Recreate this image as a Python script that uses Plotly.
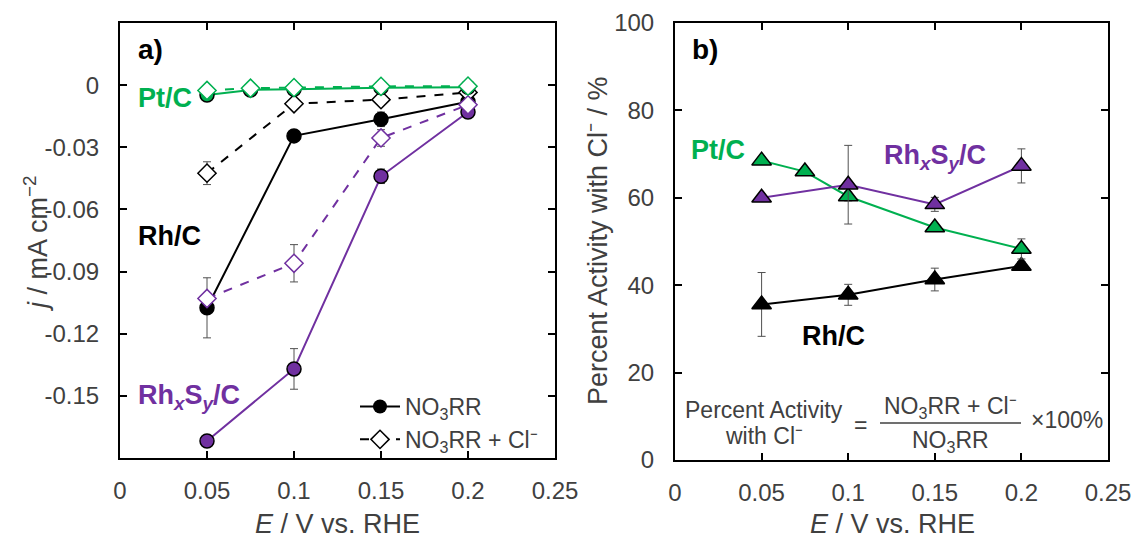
import plotly.graph_objects as go

# ---- data -------------------------------------------------------------
E = [0.05, 0.1, 0.15, 0.2]
E_pt = [0.05, 0.075, 0.1, 0.15, 0.2]

# panel a: current density / mA cm^-2
pt_no3 = [-0.0048, -0.0023, -0.0020, -0.0012, -0.0010]
pt_no3_err = [0.0005, 0.0005, 0.0005, 0.0005, 0.0005]
pt_cl = [-0.0026, -0.0015, -0.0012, -0.0006, -0.0005]
pt_cl_err = [0.0005, 0.0005, 0.0005, 0.0005, 0.0005]

rh_no3 = [-0.1075, -0.0245, -0.0165, -0.0080]
rh_no3_err = [0.0145, 0.0010, 0.0035, 0.0010]
rh_cl = [-0.0425, -0.0090, -0.0070, -0.0035]
rh_cl_err = [0.0055, 0.0010, 0.0010, 0.0005]

rhs_no3 = [-0.1718, -0.1370, -0.0440, -0.0130]
rhs_no3_err = [0.0015, 0.0098, 0.0035, 0.0010]
rhs_cl = [-0.1030, -0.0860, -0.0255, -0.0095]
rhs_cl_err = [0.0020, 0.0090, 0.0040, 0.0010]

# panel b: percent activity retained with chloride
pt_pct = [68.5, 66.0, 60.3, 53.2, 48.3]
pt_pct_err = [0.8, 0.8, 1.0, 0.8, 2.3]
rh_pct = [35.6, 37.8, 41.3, 44.4]
rh_pct_err = [7.3, 2.4, 2.6, 1.0]
rhs_pct = [60.0, 63.0, 58.5, 67.3]
rhs_pct_err = [0.8, 9.0, 1.6, 3.9]

x_ticks = [0, 0.05, 0.1, 0.15, 0.2, 0.25]
x_ticktext = ["0", "0.05", "0.1", "0.15", "0.2", "0.25"]
ya_ticks = [-0.15, -0.12, -0.09, -0.06, -0.03, 0]
ya_ticktext = ["-0.15", "-0.12", "-0.09", "-0.06", "-0.03", "0"]
yb_ticks = [0, 20, 40, 60, 80, 100]

# ---- style ------------------------------------------------------------
W, H = 1135, 538
GREEN = "#00B050"
PURPLE = "#7030A0"
BLACK = "#000000"
GREY = "#404040"
ERR = "#505050"
FONT = "Liberation Sans, Arial, sans-serif"


def px(x):
    return x / W


def py(y):
    return 1 - y / H


def err(vals):
    return dict(type="data", array=vals, color=ERR, thickness=1, width=4)


fig = go.Figure()


def add_a(x, y, e, color, fill, symbol, dash, outline=BLACK):
    fig.add_trace(go.Scatter(
        x=x, y=y, error_y=err(e), mode="lines+markers",
        line=dict(color=color, width=2, dash=dash),
        marker=dict(symbol=symbol, size=14, color=fill,
                    line=dict(color=outline, width=1.5)),
        showlegend=False, xaxis="x", yaxis="y"))


add_a(E, rh_no3, rh_no3_err, BLACK, BLACK, "circle", "solid")
add_a(E, rh_cl, rh_cl_err, BLACK, "white", "diamond", "dash")
add_a(E, rhs_no3, rhs_no3_err, PURPLE, PURPLE, "circle", "solid")
add_a(E, rhs_cl, rhs_cl_err, PURPLE, "white", "diamond", "dash", outline=PURPLE)
add_a(E_pt, pt_no3, pt_no3_err, GREEN, GREEN, "circle", "solid")
add_a(E_pt, pt_cl, pt_cl_err, GREEN, "white", "diamond", "dash", outline=GREEN)

# legend entries
fig.add_trace(go.Scatter(
    x=[None], y=[None], mode="lines+markers", name="NO<sub>3</sub>RR",
    line=dict(color=BLACK, width=2),
    marker=dict(symbol="circle", size=14, color=BLACK),
    xaxis="x", yaxis="y"))
fig.add_trace(go.Scatter(
    x=[None], y=[None], mode="lines+markers", name="NO<sub>3</sub>RR + Cl⁻",
    line=dict(color=BLACK, width=2, dash="dash"),
    marker=dict(symbol="diamond", size=14, color="white",
                line=dict(color=BLACK, width=1.5)),
    xaxis="x", yaxis="y"))


def add_b(x, y, e, color):
    fig.add_trace(go.Scatter(
        x=x, y=y, error_y=err(e), mode="lines+markers",
        line=dict(color=color, width=2),
        marker=dict(symbol="triangle-up", size=17, color=color,
                    line=dict(color=BLACK, width=1.5)),
        showlegend=False, xaxis="x2", yaxis="y2"))


add_b(E, rh_pct, rh_pct_err, BLACK)
add_b(E_pt, pt_pct, pt_pct_err, GREEN)
add_b(E, rhs_pct, rhs_pct_err, PURPLE)

axis_common = dict(
    showline=True, linecolor=BLACK, linewidth=2, mirror="ticks",
    ticks="inside", ticklen=7, tickwidth=1.5, tickcolor=BLACK,
    showgrid=False, zeroline=False, automargin=False,
    tickfont=dict(family=FONT, size=24, color=GREY),
)
x_common = dict(axis_common, ticklabelstandoff=10)
y_common = dict(axis_common, ticklabelstandoff=14)

fig.update_layout(
    width=W, height=H,
    margin=dict(l=0, r=0, t=0, b=0, autoexpand=False),
    paper_bgcolor="white", plot_bgcolor="white",
    font=dict(family=FONT, color=GREY),
    xaxis=dict(domain=[px(120), px(555)], range=[0, 0.25], anchor="y",
               tickvals=x_ticks, ticktext=x_ticktext, **x_common),
    yaxis=dict(domain=[py(458), py(23)], range=[-0.18, 0.03], anchor="x",
               tickvals=ya_ticks, ticktext=ya_ticktext, **y_common),
    xaxis2=dict(domain=[px(675), px(1108)], range=[0, 0.25], anchor="y2",
                tickvals=x_ticks, ticktext=x_ticktext, **x_common),
    yaxis2=dict(domain=[py(460), py(23)], range=[0, 100], anchor="x2",
                tickvals=yb_ticks, **y_common),
    legend=dict(x=px(355), y=py(385), xanchor="left", yanchor="top",
                bgcolor="rgba(0,0,0,0)", font=dict(family=FONT, size=23, color=GREY),
                itemwidth=40, tracegroupgap=0),
    showlegend=True,
)

ann = []


def text(x, y, s, size, color=BLACK, bold=False, angle=0, xanchor="center"):
    if bold:
        s = "<b>" + s + "</b>"
    ann.append(dict(x=px(x), y=py(y), xref="paper", yref="paper", text=s,
                    showarrow=False, textangle=angle, xanchor=xanchor,
                    yanchor="middle", font=dict(family=FONT, size=size, color=color)))


# axis titles
text(337, 524, "<i>E</i> / V vs. RHE", 27, GREY)
text(892, 524, "<i>E</i> / V vs. RHE", 27, GREY)
text(36, 244, "<i>j</i> / mA cm<sup>−2</sup>", 27, GREY, angle=-90)
text(598, 241, "Percent Activity with Cl⁻ / %", 27, GREY, angle=-90)

# panel labels and series labels
text(136, 50, "a)", 28, bold=True, xanchor="left")
text(690, 50, "b)", 28, bold=True, xanchor="left")
text(136, 98, "Pt/C", 27, GREEN, bold=True, xanchor="left")
text(136, 236, "Rh/C", 27, BLACK, bold=True, xanchor="left")
text(136, 397, "Rh<sub><i>x</i></sub>S<sub><i>y</i></sub>/C", 27, PURPLE, bold=True, xanchor="left")
text(689, 150, "Pt/C", 27, GREEN, bold=True, xanchor="left")
text(882, 157, "Rh<sub><i>x</i></sub>S<sub><i>y</i></sub>/C", 27, PURPLE, bold=True, xanchor="left")
text(800, 336, "Rh/C", 27, BLACK, bold=True, xanchor="left")

# formula for percent activity
text(764, 410, "Percent Activity", 23, GREY)
text(764, 436, "with Cl⁻", 23, GREY)
text(860, 425, "=", 23, GREY)
text(950, 407, "NO<sub>3</sub>RR + Cl⁻", 23, GREY)
text(950, 441, "NO<sub>3</sub>RR", 23, GREY)
text(1067, 420, "×100%", 23, GREY)

fig.update_layout(annotations=ann)
fig.add_shape(type="line", xref="paper", yref="paper",
              x0=px(880), x1=px(1021), y0=py(423), y1=py(423),
              line=dict(color=GREY, width=1.5))

fig.write_html("out.html")
